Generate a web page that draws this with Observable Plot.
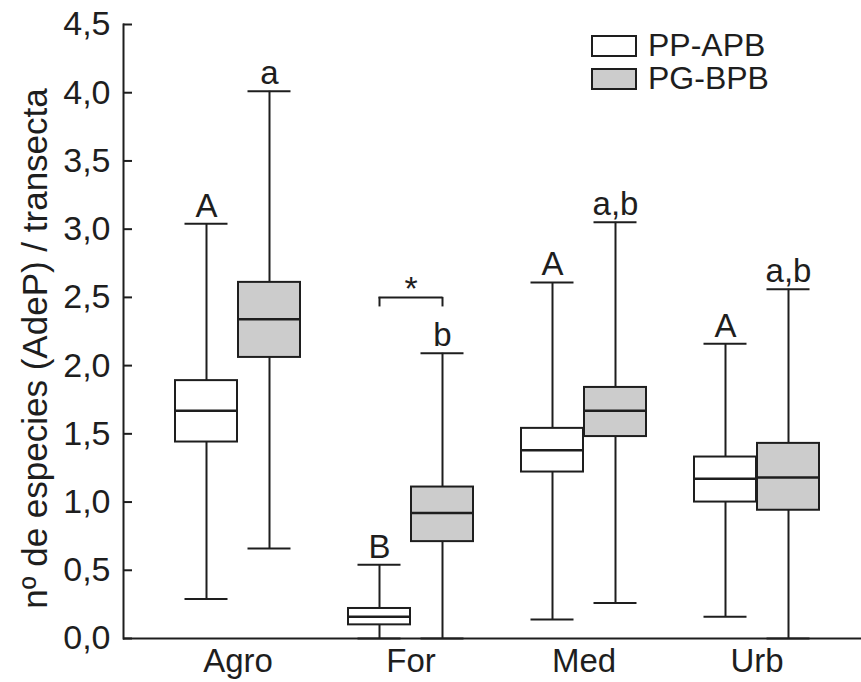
<!DOCTYPE html>
<html>
<head>
<meta charset="utf-8">
<script src="https://cdn.jsdelivr.net/npm/d3@7"></script>
<script src="https://cdn.jsdelivr.net/npm/@observablehq/plot@0.6"></script>
<style>
  body { margin: 0; background: #fff; }
  #wrap { position: relative; width: 861px; height: 682px; font-family: "Liberation Sans", Arial, sans-serif; color: #1e1e1e; }
  #legend { position: absolute; left: 591px; top: 29px; font-size: 32px; }
  #legend .row { display: flex; align-items: center; height: 33px; }
  #legend .sw { box-sizing: border-box; width: 46px; height: 22px; border: 2px solid #1e1e1e; margin-right: 11px; }
</style>
</head>
<body>
<div id="wrap"></div>
<script>
// ---- data ----
const cats = ["Agro", "For", "Med", "Urb"];
const groups = ["PP-APB", "PG-BPB"];
const groupFills = ["#ffffff", "#cccccc"];

const ppMin = [0.29, 0.00, 0.14, 0.16];
const ppQ1  = [1.44, 0.10, 1.22, 1.00];
const ppMed = [1.67, 0.16, 1.38, 1.17];
const ppQ3  = [1.89, 0.22, 1.54, 1.33];
const ppMax = [3.04, 0.54, 2.61, 2.16];

const pgMin = [0.66, 0.00, 0.26, 0.00];
const pgQ1  = [2.06, 0.71, 1.48, 0.94];
const pgMed = [2.34, 0.92, 1.67, 1.18];
const pgQ3  = [2.61, 1.11, 1.84, 1.43];
const pgMax = [4.01, 2.09, 3.05, 2.56];

const ppLetters = ["A", "B", "A", "A"];
const pgLetters = ["a", "b", "a,b", "a,b"];

const yTicks = [0, 0.5, 1, 1.5, 2, 2.5, 3, 3.5, 4, 4.5];
const yLabel = "nº de especies (AdeP) / transecta";

const sigCat = "For";
const sigTop = 2.50;
const sigEnd = 2.43;
const sigText = "*";

// ---- build tables ----
const pp = cats.map((c, i) => ({cat: c, min: ppMin[i], q1: ppQ1[i], med: ppMed[i], q3: ppQ3[i], max: ppMax[i], letter: ppLetters[i]}));
const pg = cats.map((c, i) => ({cat: c, min: pgMin[i], q1: pgQ1[i], med: pgMed[i], q3: pgQ3[i], max: pgMax[i], letter: pgLetters[i]}));
const sig = [{cat: sigCat, top: sigTop, end: sigEnd, text: sigText}];

const ink = "#1e1e1e";
const half = 31.5;   // offset of each box centre from the category centre
const boxW = 63;
const capHalf = 22;
const bw = 2 * boxW;

const common = {stroke: ink, strokeWidth: 2};

const chart = Plot.plot({
  width: 861,
  height: 682,
  marginLeft: 123,
  marginRight: 0,
  marginTop: 24,
  marginBottom: 44,
  style: {fontFamily: "'Liberation Sans', Arial, sans-serif", color: ink, background: "#fff"},
  x: {domain: cats, paddingInner: 0.276, paddingOuter: 0.2587, align: 0.556},
  y: {domain: [0, 4.5]},
  marks: [
    // whiskers
    Plot.ruleX(pp, {x: "cat", y1: "min", y2: "max", dx: -half, ...common}),
    Plot.ruleX(pg, {x: "cat", y1: "min", y2: "max", dx: half, ...common}),
    // caps
    Plot.tickY(pp, {x: "cat", y: "max", insetLeft: boxW / 2 - capHalf, insetRight: bw - boxW / 2 - capHalf, ...common}),
    Plot.tickY(pp, {x: "cat", y: "min", insetLeft: boxW / 2 - capHalf, insetRight: bw - boxW / 2 - capHalf, ...common}),
    Plot.tickY(pg, {x: "cat", y: "max", insetLeft: bw - boxW / 2 - capHalf, insetRight: boxW / 2 - capHalf, ...common}),
    Plot.tickY(pg, {x: "cat", y: "min", insetLeft: bw - boxW / 2 - capHalf, insetRight: boxW / 2 - capHalf, ...common}),
    // boxes
    Plot.barY(pp, {x: "cat", y1: "q1", y2: "q3", insetRight: boxW, fill: groupFills[0], ...common}),
    Plot.barY(pg, {x: "cat", y1: "q1", y2: "q3", insetLeft: boxW, fill: groupFills[1], ...common}),
    // medians
    Plot.tickY(pp, {x: "cat", y: "med", insetRight: boxW, stroke: ink, strokeWidth: 2.5}),
    Plot.tickY(pg, {x: "cat", y: "med", insetLeft: boxW, stroke: ink, strokeWidth: 2.5}),
    // letters
    Plot.text(pp, {x: "cat", y: "max", text: "letter", dx: -half, dy: -7, lineAnchor: "bottom", fontSize: 33, fill: ink}),
    Plot.text(pg, {x: "cat", y: "max", text: "letter", dx: half, dy: -7, lineAnchor: "bottom", fontSize: 33, fill: ink}),
    // significance bracket
    Plot.tickY(sig, {x: "cat", y: "top", insetLeft: boxW / 2 - 1, insetRight: boxW / 2 - 1, ...common}),
    Plot.ruleX(sig, {x: "cat", y1: "end", y2: "top", dx: -half, ...common}),
    Plot.ruleX(sig, {x: "cat", y1: "end", y2: "top", dx: half, ...common}),
    Plot.text(sig, {x: "cat", y: "top", text: "text", dy: 3, lineAnchor: "bottom", fontSize: 34, fill: ink}),
    // axes
    Plot.axisY({
      ticks: yTicks,
      tickFormat: d => d3.format(".1f")(d).replace(".", ","),
      tickSize: -9,
      tickPadding: 22,
      strokeWidth: 2,
      fontSize: 34,
      label: null
    }),
    Plot.text([yLabel], {
      text: d => d,
      frameAnchor: "left",
      rotate: -90,
      dx: -88,
      dy: 17,
      lineAnchor: "middle",
      textAnchor: "middle",
      fontSize: 35,
      fill: ink
    }),
    Plot.axisX({tickSize: 0, tickPadding: 10, fontSize: 33, label: null}),
    Plot.ruleY([0], {stroke: ink, strokeWidth: 2}),
    Plot.frame({anchor: "left", stroke: ink, strokeWidth: 2})
  ]
});

const wrap = document.getElementById("wrap");
wrap.appendChild(chart);

// legend overlay
const legend = document.createElement("div");
legend.id = "legend";
groups.forEach((g, i) => {
  const row = document.createElement("div");
  row.className = "row";
  const sw = document.createElement("span");
  sw.className = "sw";
  sw.style.background = groupFills[i];
  row.appendChild(sw);
  row.appendChild(document.createTextNode(g));
  legend.appendChild(row);
});
wrap.appendChild(legend);
</script>
</body>
</html>
